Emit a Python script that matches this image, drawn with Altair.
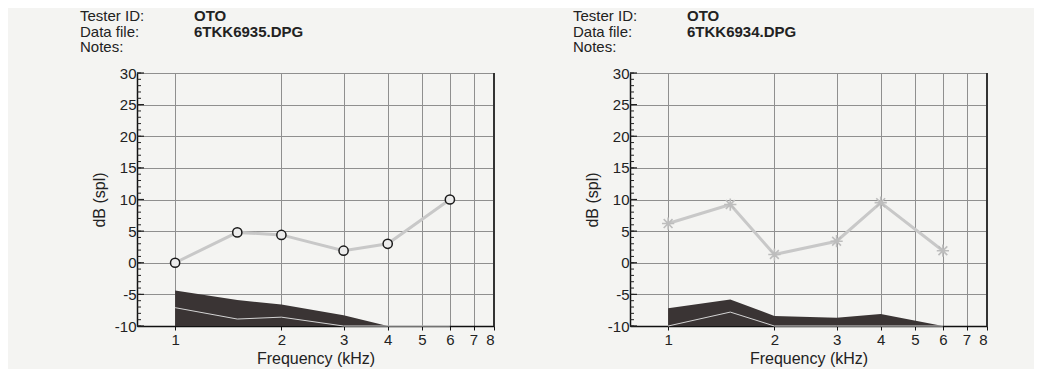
import altair as alt
import pandas as pd

# ---- data ----
freq_khz = [1, 1.5, 2, 3, 4, 6]

left_dp = [0.0, 4.8, 4.4, 1.9, 3.0, 10.0]
left_noise_upper = [-4.4, -5.9, -6.6, -8.3, -10.0, -10.0]
left_noise_mean = [-7.1, -8.9, -8.6, -10.0, -10.0, -10.0]

right_dp = [6.2, 9.2, 1.3, 3.4, 9.5, 1.9]
right_noise_upper = [-7.2, -5.8, -8.4, -8.7, -8.1, -10.0]
right_noise_mean = [-10.0, -7.8, -10.0, -10.0, -10.0, -10.0]

x_ticks = [1, 2, 3, 4, 5, 6, 7, 8]
y_major = [-10, -5, 0, 5, 10, 15, 20, 25, 30]
y_minor = list(range(-10, 31))

header_labels = ["Tester ID:", "Data file:", "Notes:"]
left_header_values = ["OTO", "6TKK6935.DPG", ""]
right_header_values = ["OTO", "6TKK6934.DPG", ""]

FONT = "Liberation Sans"
W, H = 357, 253

ASTERISK = "M-1,0L1,0M0,-1L0,1M-0.72,-0.72L0.72,0.72M-0.72,0.72L0.72,-0.72"


def panel(dp, upper, mean, marker, hvals):
    df = pd.DataFrame({"f": freq_khz, "dp": dp, "upper": upper,
                       "mean": mean, "base": [-10] * len(freq_khz)})
    xs = alt.Scale(type="log", domain=[0.78, 8], nice=False)
    ys = alt.Scale(domain=[-10, 30], nice=False)
    x_axis = alt.Axis(values=x_ticks, format="d", title="Frequency (kHz)",
                      grid=True, gridColor="#8f8f8f", gridWidth=1,
                      domainColor="#111", domainWidth=1.5,
                      tickColor="#111", tickSize=4, labelPadding=2,
                      titlePadding=3)
    y_axis = alt.Axis(values=y_major, title="dB (spl)", grid=True,
                      gridColor="#8f8f8f", gridWidth=1, labelOverlap=False,
                      labelExpr="toString(datum.value)",
                      domainColor="#111", domainWidth=1.5,
                      ticks=False, labelPadding=1, titlePadding=7)
    x = alt.X("f:Q", scale=xs, axis=x_axis)

    def yq(field):
        return alt.Y(field, scale=ys, axis=y_axis, title="dB (spl)")

    base = alt.Chart(df)
    area = base.mark_area(color="#3a3434", opacity=1).encode(
        x=x, y=yq("upper:Q"), y2="base:Q")
    mean_line = base.mark_line(color="#d4d4d4", strokeWidth=1).encode(
        x=x, y=yq("mean:Q"))
    dp_line = base.mark_line(color="#c8c8c8", strokeWidth=3).encode(
        x=x, y=yq("dp:Q"))
    if marker == "circle":
        pts = base.mark_point(shape="circle", size=85, filled=True,
                              fill="#ececec", stroke="#1a1a1a",
                              strokeWidth=1.5, opacity=1).encode(
            x=x, y=yq("dp:Q"))
    else:
        pts = base.mark_point(shape=ASTERISK, size=150, filled=False,
                              color="#bdbdbd", strokeWidth=1.6,
                              opacity=1).encode(x=x, y=yq("dp:Q"))
    minor = alt.Chart(pd.DataFrame({"v": y_minor})).mark_rule(
        color="#222", strokeWidth=1).encode(
        y=yq("v:Q"), x=alt.value(0), x2=alt.value(4))
    major = alt.Chart(pd.DataFrame({"v": y_major})).mark_rule(
        color="#222", strokeWidth=1.2).encode(
        y=yq("v:Q"), x=alt.value(0), x2=alt.value(7))
    right_edge = alt.Chart(pd.DataFrame({"v": [8]})).mark_rule(
        color="#333", strokeWidth=2).encode(x=alt.X("v:Q", scale=xs, axis=x_axis))

    layers = [area, mean_line, dp_line, pts, minor, major, right_edge]
    rows_y = [-57, -41, -26]
    for i, lab in enumerate(header_labels):
        layers.append(alt.Chart(pd.DataFrame({"t": [lab]})).mark_text(
            align="left", baseline="middle", font=FONT, fontSize=15,
            color="#222").encode(text="t:N", x=alt.value(-57),
                                 y=alt.value(rows_y[i])))
        if hvals[i]:
            layers.append(alt.Chart(pd.DataFrame({"t": [hvals[i]]})).mark_text(
                align="left", baseline="middle", font=FONT, fontSize=15,
                fontWeight="bold", color="#222").encode(
                text="t:N", x=alt.value(57), y=alt.value(rows_y[i])))
    return alt.layer(*layers).properties(width=W, height=H)


left = panel(left_dp, left_noise_upper, left_noise_mean, "circle",
             left_header_values)
right = panel(right_dp, right_noise_upper, right_noise_mean, "asterisk",
              right_header_values)

chart = alt.hconcat(left, right, spacing=76).properties(
    padding={"left": 71, "top": 0, "right": 45, "bottom": 2},
    background="#f4f4f2",
).configure_axis(
    labelFont=FONT, titleFont=FONT, labelFontSize=15, titleFontSize=16,
    labelColor="#222", titleColor="#222", titleFontWeight="normal",
).configure_view(stroke="#8f8f8f", strokeWidth=1)

chart.save("out.html", embed_options={"renderer": "svg", "actions": False})
